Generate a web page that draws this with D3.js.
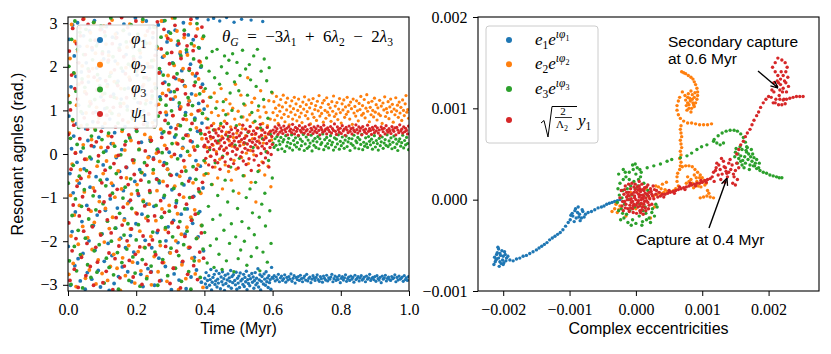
<!DOCTYPE html>
<html><head><meta charset="utf-8">
<script src="https://cdn.jsdelivr.net/npm/d3@7"></script>
<style>body{margin:0;background:#fff} svg{display:block} text{white-space:pre}</style>
</head><body><svg id="c" width="831" height="354"></svg>
<script>
// ================= DATA =================
// Left panel: resonant angles (hundredths of rad) sampled along three time segments (Myr)
const segments = [[0.0, 0.4], [0.4, 0.6], [0.6, 1.0]];
const phi1_chaos = [-212,87,263,-45,-301,154,12,-178,296,-89,41,225,-256,-133,178,69,-19,301,-240,112,-67,247,-291,5,188,-155,93,-228,271,-34,142,-310,58,209,-118,-272,31,165,-199,282,-76,120,-11,-287,239,74,-164,17,306,-221,96,-52,197,-140,255,-267,38,-98,173,-305,131,286,-183,62,-25,218,-246,104,-129,7,292,-58,159,-205,234,-313,80,-103,185,24,-233,268,-72,137,-297,49,213,-170,-8,277,-124,167,-281,91,-40,251,-193,126,10,-259,190,-84,298,-149,63,-215,228,-31,109,-270,151,-110,275,36,-187,202,-293,84,-14,244,-225,146,-63,312,-160,54,181,-250,118,-95,261,-36,222,-276,27,-138,193,-304,99,260,-48,-198,136,305,-115,71,-263,170,-6,289,
33,118,-270,-215,200,267,-9,-120,-301,77,152,240,-57,-180,11,296,-239,-66,131,188,-290,-145,48,222,305,-100,-20,165,-258,-199,90,257,-35,-167,280,4,-226,143,61,-311,-82,209,126,-152,-275,39,284,173,-112,-47,250,-203,67,-289,109,230,-4,-138,191,-248,15,301,-71,157,-184,95,-309,233,-126,44,273,-216,121,-56,206,-282,138,28,-159,262,-97,-237,82,179,-15,-266,312,52,-190,116,243,-132,-28,199,-294,71,160,-78,-222,103];
const phi1_cap1 = [-285,-298,-272,-306,-290,308,-279,-301,-288,-265,-312,-294,-283,311,-276,-299,-291,-268,-305,-287,-296,-274,305,-309,-282,-293,-270,-300,-286,-313,-278,-297,313,-289,-275,-303,-284,-292,-267,-308,-281,-295,-277,302,-290,-300,-271,-310,-285,-296,-280,-306,-273,-291,309,-287,-299,-276,-304,-283,-293,-269,-311,-288,-297,-279,-302,-286,307,-274,-294,-282,-308,-290,-272,-300,-285,-296,-263,-305,-289,-277,-312,-292,-281,304,-298,-275,-287,-301,-270,-293,-284,-306,-279,-295,-288,-310,-260,-283];
const phi1_cap2 = [-285,-279,-291,-282,-288,-276,-293,-284,-280,-290,-286,-277,-294,-283,-289,-281,-287,-275,-292,-285,-279,-296,-283,-288,-281,-290,-278,-286,-293,-284,-280,-289,-276,-291,-285,-282,-295,-287,-279,-284,-290,-283,-277,-288,-292,-281,-286,-294,-280,-285,-289,-278,-291,-284,-287,-282,-276,-293,-286,-280,-290,-283,-288,-279,-295,-285,-281,-289,-284,-277,-292,-286,-282,-290,-280,-287,-283,-294,-278,-288,-285,-281,-291,-284,-279,-289,-286,-282,-293,-280,-287,-284,-276,-290,-285,-283,-288,-281,-292,-279,-286,-289,-283,-295,-280,-287,-284,-278,-291,-285,-282,-288,-290,-281,-286,-284,-277,-293,-283,-289,-280,-287,-285,-282,-292,-279,-288,-284,-290,-281];
const phi2_chaos = [134,-276,48,219,-95,-188,297,-23,76,-251,185,-140,258,3,-304,112,-61,236,-207,160,-118,289,-36,65,-233,202,-166,21,310,-87,143,-285,94,-12,247,-192,178,-52,-266,120,278,-131,33,-219,196,-78,301,-157,58,231,-298,107,-28,169,-243,82,-109,264,-183,15,213,-274,137,-45,293,-202,70,-125,252,-16,155,-290,42,226,-171,98,-258,187,-67,307,-145,24,-230,166,-99,275,-5,128,-262,207,-39,89,-196,239,-313,150,-80,52,-238,283,116,-152,9,-279,198,-55,245,-114,73,-210,176,298,-172,31,-92,256,-248,140,-20,216,-296,61,-135,190,-70,269,-224,104,11,-177,232,-268,85,-43,304,-106,159,-214,45,272,-147,123,-281,208,-8,91,
-115,254,38,-189,-300,127,72,-44,215,-235,161,290,-153,2,-84,243,-270,114,186,-17,-210,57,305,-126,139,-63,-249,225,20,-173,96,271,-292,-35,180,147,-118,49,-227,261,-6,-158,312,88,-262,203,-74,131,-199,25,282,-137,66,-311,170,-51,234,108,-184,-254,13,196,-99,267,-30,155,-286,79,-168,227,42,-214,122,-3,299,-145,91,-239,184,-66,16,248,-128,-275,135,60,-193,287,-25,172,-245,100,211,-90,-164,35,265,-306,144,-48];
const phi2_cap1 = [45,-20,82,15,110,-45,60,130,-5,35,95,-70,20,70,140,-30,55,5,120,-55,88,25,-12,65,150,40,-80,100,10,75,-25,125,50,0,92,-40,30,115,62,-60,18,105,38,-15,80,160,-35,48,12,98,-90,68,28,135,-8,58,85,22,-50,112,42,2,78,175,-22,52,90,8,-65,118,35,72,-2,128,45,-110,60,16,100,30,-38,85,145,55,-18,70,25,108,-48,40,95,6,65,-28,122,50,80,-75,32,140];
const phi2_cap2 = [95,120,78,105,132,88,70,112,98,125,83,108,135,91,74,118,101,128,86,67,110,96,122,80,104,130,90,115,76,100,126,85,109,94,72,119,103,131,88,113,97,81,124,106,69,116,92,127,84,102,111,77,121,99,134,87,107,93,117,73,123,100,82,129,96,114,89,106,75,120,98,133,86,110,92,118,79,103,127,95,71,115,101,124,84,108,91,130,97,112,80,119,104,68,126,94,109,87,122,99,76,116,102,132,89,111,93,125,83,105,136,98,118,74,107,90,121,100,85,128,96,113,78,106,92,123,88,110,70,117,101,131,86,104,95,120,81,108,126,97,114,73,103,90,129,99,112,84,119,94,107,77,124,100,88,115,134,96,102,82];
const phi3_chaos = [-67,201,-245,118,36,-299,263,-141,79,-26,186,-212,305,-103,144,-268,22,240,-175,61,-51,279,-231,97,-120,172,-307,14,228,-82,153,-193,286,-38,67,-254,195,-149,110,-7,261,-283,41,-165,216,-96,302,-222,125,55,-128,248,-271,182,-17,88,-208,157,-60,293,-184,33,234,-114,4,-296,139,271,-73,-239,106,-154,211,48,-260,178,-31,312,-200,93,-90,223,-277,130,18,-170,266,-45,162,-226,71,-310,243,-136,116,-2,197,-249,57,-101,284,-186,149,-76,29,257,-218,101,-160,206,-290,39,170,-57,296,-125,81,-236,223,-14,128,-273,190,-197,52,-84,275,-162,10,238,-303,146,-42,85,-242,309,-109,175,-20,-215,115,254,-286,64,-143,200,-64,
172,-88,29,-257,214,133,-179,-36,291,62,-225,150,-118,247,10,-301,87,-61,196,-201,125,268,-145,3,-242,181,51,-95,306,-169,112,-22,231,-279,70,159,-131,-47,277,-216,99,24,-190,208,-79,143,312,-262,44,-107,184,-11,259,-233,117,-155,65,225,-292,-68,168,36,-208,284,-126,89,-39,239,-177,6,129,-270,192,-100,56,-310,253,-151,111,-29,218,-245,78,165,-58,-194,299,18,-136,244,-86,138,-283,47,202,-164,93,-218,270,-15];
const phi3_cap1 = [-180,150,-45,220,-250,80,-120,190,10,-210,130,-70,235,-150,55,-260,175,-20,105,-195,240,-95,30,-230,160,-140,70,200,-265,-5,120,-175,225,-60,90,-245,185,-110,40,215,-205,140,-30,-160,100,230,-85,-270,165,20,-190,65,210,-125,-240,145,-10,180,-220,85,-155,238,-50,115,-200,25,195,-100,-255,135,50,-170,205,-80,170,-235,95,-135,15,225,-185,75,-65,155,-215,240,-40,110,-145,-268,60,190,-115,35,-225,125,218,-90,-165,5,168,-248,82,-15,198,-130,45,-205,142,-55];
const phi3_cap2 = [25,15,35,20,40,10,30,22,38,12,28,33,6,42,18,27,36,14,24,44,9,31,21,37,16,26,41,11,34,19,29,45,8,23,39,13,32,17,25,43,7,30,20,36,15,28,40,12,35,22,26,46,10,33,18,38,24,14,31,42,21,27,9,37,16,34,23,44,11,29,19,39,25,13,32,41,17,28,36,8,24,35,20,43,14,30,26,38,12,33,22,45,10,27,18,37,23,15,40,29,21,34,11,26,42,16,31,24,9,36,19,28,39,13,25,33,20,44,17,30,22,37,12,27,41,15,34,23,8,29,35,18,26,43,14,31,21,38,24,10];
const psi1_chaos = [45,-158,236,-290,101,-35,181,-222,288,-117,66,-264,150,2,-194,253,-74,126,-306,209,-142,35,271,-56,-237,164,-98,309,-177,83,-12,228,-279,138,-205,57,297,-127,190,-43,-258,115,19,244,-167,94,-301,176,-85,261,-214,28,147,-248,73,-4,205,-132,285,-186,52,-66,230,-295,123,-110,280,-37,168,-269,89,-151,15,215,-227,298,-95,132,-181,40,253,-311,107,-22,193,-240,62,-146,267,-81,157,-3,-211,238,-284,109,-54,313,-163,78,-122,223,-257,21,184,-30,129,-199,290,-70,44,-244,170,-106,258,-172,98,-14,-282,218,-47,141,-230,305,59,-137,195,-91,26,262,-213,117,-60,202,-299,155,-188,68,245,-119,7,-253,175,-26,282,-153,92,-208,
-84,200,-271,31,144,-197,278,-12,63,-142,226,-231,112,-58,303,-175,5,186,-291,95,-107,241,38,-249,162,-26,286,-134,77,-212,134,12,-73,265,-180,49,207,-297,126,-49,233,-157,88,-262,176,-1,295,-121,58,-223,148,23,-168,253,-93,103,-307,219,-40,167,-246,80,-15,274,-189,138,43,-115,248,-276,113,-62,196,-214,30,309,-152,70,-99,237,-256,157,9,-138,270,-35,185,-288,99,-80,213,-225,54,153,-181,291,-65,121,-239,17];
const psi1_cap1 = [20,45,-10,35,60,5,28,-25,50,15,40,-5,65,22,-30,38,10,55,-15,30,48,0,25,-20,42,58,12,-35,32,18,52,-8,36,62,8,26,-18,44,14,70,2,34,-28,50,20,40,-12,56,24,6,46,-22,30,16,60,-2,38,11,54,-32,28,42,19,-6,48,33,4,66,-16,26,36,13,57,-24,41,23,9,51,-11,31,63,17,-38,45,27,7,53,-14,35,21,47,-4,29,59,14,-26,39,25,68,1,43,18,55,-20,33,12,49,-9,37,24,61,3,46,-30,30,15,52,-1,40,22];
const psi1_cap2 = [55,48,62,52,58,45,66,50,60,54,47,64,56,51,59,44,63,53,57,49,68,55,46,61,52,58,43,65,54,50,60,57,48,63,53,56,45,67,51,59,55,47,62,52,58,49,64,54,44,61,56,50,66,53,57,46,60,55,51,63,48,58,54,69,52,45,62,56,50,59,47,65,53,57,43,61,55,49,64,52,58,46,60,54,51,67,56,48,62,53,59,44,63,55,50,57,47,66,52,58,54,45,61,56,49,64,53,60,48,55,42,62,57,51,59,46,65,54,50,58,53,47,63,56,52,60,44,61,55,49,67,53,57,48,62,51,59,54,46,64];

// Right panel: complex eccentricities, [real, imag] in units of 1e-5
const e1_pts = [[-210,-60],[-205,-68],[-200,-62],[-214,-71],[-198,-57],[-207,-54],[-211,-66],[-195,-64],[-203,-70],[-209,-58],[-201,-66],[-213,-63],[-197,-60],[-206,-73],[-199,-69],[-208,-52],[-204,-61],[-212,-68],[-196,-67],[-202,-56],[-210,-65],[-193,-62],[-205,-59],[-200,-71],[-207,-64],
[-190,-66],[-185,-67],[-180,-65],[-175,-64],[-170,-62],[-165,-61],[-160,-59],[-155,-57],[-150,-55],[-146,-53],[-142,-51],[-138,-49],[-134,-47],[-130,-44],[-126,-42],[-122,-40],[-118,-38],[-114,-36],[-110,-33],[-106,-29],[-102,-25],
[-95,-18],[-88,-14],[-82,-20],[-99,-22],[-91,-10],[-85,-16],[-78,-19],[-93,-24],[-87,-8],[-80,-13],[-96,-15],[-90,-20],[-84,-23],[-76,-16],[-92,-12],[-86,-19],[-98,-17],[-81,-11],
[-72,-14],[-67,-13],[-62,-11],[-57,-9],[-52,-8],[-48,-7],[-44,-5],[-40,-4],[-36,-3],[-32,-2],[-28,-1],[-24,0]];
const e2_pts = [[69,140],[72,139],[75,138],[79,136],[83,134],[86,132],[88,129],[90,126],[92,122],[93,118],[93,114],[92,110],[90,106],[88,102],
[78,112],[82,108],[85,115],[80,104],[75,109],[84,100],[88,112],[79,116],[76,103],[83,119],[86,106],[81,111],[77,98],[89,117],[74,114],[80,100],[85,110],[78,106],[83,96],[87,104],
[70,118],[66,112],[64,108],[62,103],[62,98],[64,93],[67,89],[72,86],[78,84],[84,84],[90,83],[96,82],[102,82],[108,82],[114,83],
[68,81],[67,77],[68,73],[69,69],[67,65],[68,61],[69,57],[67,53],[68,49],[66,45],[68,41],[67,37],
[64,15],[62,20],[62,25],[63,29],[66,33],[70,36],[75,37],[80,37],[85,36],[89,33],[93,30],[97,27],[100,24],[103,21],[106,18],
[78,25],[83,22],[88,27],[92,20],[96,24],[85,18],[80,20],[90,16],[100,19],[94,15],[87,13],[82,16],[98,14],[104,16],[76,18],[91,24],
[97,2],[102,3],[107,4],[112,3],[117,2],[108,10],[110,7],
[27,4],[32,6],[37,7],[42,8],[47,9],[52,9],[57,10],[60,12],[34,14],[40,17],[46,19],[38,12],[44,11],
[-36,-13],[-32,-10],[-28,-14],[-24,-7],[-30,-5],[-26,-11],[5,10],[10,-5],[15,12],[-8,8],[20,2],[0,-10],[30,15],[28,-8],[-15,-18],[22,-20]];
const e3_pts = [[-20,10],[-15,25],[-10,30],[-5,38],[0,28],[-25,5],[-22,-10],[-18,-20],[-12,-25],[-5,-22],[5,-18],[10,-24],[15,-15],[20,-20],[25,-10],[30,-5],[-8,15],[-3,20],[2,35],[8,30],[-28,-3],[-24,18],[-17,-5],[-13,12],[-9,-12],[-6,5],[4,22],[12,18],[18,10],[22,-25],[28,-18],[-20,-15],[-16,30],[-11,0],[-2,-8],[6,-5],[14,-8],[-27,12],[-19,22],[-7,-28],[0,-26],[9,-28],[16,-22],[-14,-16],[-23,-22],[3,15],[-4,33],[7,25],[-26,-12],[-10,22],[17,5],[24,-14],[11,-12],[-1,12],[32,-8],[-21,2],[-26,28],[-19,33],[-1,39],
[6,33],[17,35],[27,37],[37,39],[47,42],[54,44],[67,46],[77,48],[84,51],[92,55],[99,58],[107,60],[117,64],[124,70],
[130,73],[136,75],[142,76],[148,76],[153,75],[158,72],[162,68],[165,63],[167,58],[118,66],[122,62],[127,60],[132,62],
[150,52],[155,45],[160,55],[165,40],[170,50],[175,42],[158,48],[163,35],[168,57],[172,38],[178,46],[153,40],[161,43],[167,52],[174,55],[180,40],[185,35],[157,58],[149,47],[164,47],[169,44],[176,50],[182,44],[154,50],[160,38],[171,33],[166,54],[151,56],[179,37],[186,40],[158,42],[173,47],
[177,37],[182,34],[187,32],[192,30],[197,29],[202,27],[207,26],[212,25],[216,24],[220,24]];
const y1_pts = [[0,0],[5,3],[-5,-2],[10,5],[-10,4],[3,-8],[8,-4],[-3,8],[15,2],[-15,-5],[12,10],[-8,12],[2,14],[-12,-10],[6,-12],[18,-3],[-18,6],[20,8],[-20,-2],[25,4],[-22,10],[9,17],[-4,-14],[14,-9],[-16,15],[22,12],[30,6],[35,8],[-6,18],[1,-15],[11,-16],[-13,0],[7,9],[-2,4],[16,14],[-9,-6],[4,6],[13,-2],[-7,1],[24,-5],[28,11],[-24,2],[-19,-12],[19,-10],[-1,11],[10,-8],[-11,17],[33,3],[26,15],[5,20],[-14,8],[17,6],[8,0],[-5,-10],[21,1],[-17,-2],[3,-3],[12,4],[-3,-5],[6,12],
[-2,2],[4,-1],[7,5],[-6,6],[1,8],[9,2],[-9,0],[12,-5],[-4,-7],[6,-7],[14,7],[-11,8],[2,-4],[10,11],[-7,-3],[16,-1],[19,4],[-14,3],[0,-6],[5,15],[-1,17],[23,9],[-17,11],[13,13],[-10,-13],[7,-14],[20,-6],[27,1],[31,10],[-21,-7],[18,16],[-3,14],[9,-11],[-12,5],[3,11],[15,-12],[-8,-9],[11,1],[-16,-9],[24,6],
[37,4],[40,6],[44,6],[48,7],[52,8],[56,9],[60,10],[64,11],[68,12],[72,13],[76,14],[80,15],[84,16],[88,17],[92,18],[96,18],[100,19],[104,21],[108,22],[112,23],[42,3],[50,10],[58,7],[66,14],[74,11],[82,18],[90,15],[98,21],[106,19],
[115,25],[120,32],[125,38],[130,28],[135,35],[140,30],[145,38],[150,32],[118,20],[128,22],[138,25],[148,25],[122,40],[132,42],[142,44],[152,40],[127,33],[137,29],[143,33],[133,36],[117,30],[124,27],[147,28],[153,22],[150,16],[146,18],[134,19],[129,45],[140,40],[155,35],[121,35],[136,31],
[152,50],[155,55],[158,60],[162,64],[165,69],[168,73],[172,77],[175,82],[178,87],[182,92],[185,96],[188,101],[192,106],[196,110],[200,113],
[204,112],[208,118],[212,124],[215,128],[218,132],[222,136],[226,140],[228,145],[225,150],[220,153],[214,155],[210,150],[206,145],[210,140],[214,136],[218,126],[222,122],[226,128],[229,134],[221,118],[216,114],[211,110],[207,106],[213,130],[219,140],[224,130],[208,128],[205,120],[227,118],[217,120],[223,110],[230,124],
[217,110],[222,109],[227,110],[232,111],[237,112],[242,113],[247,113],[252,113],[210,106],[215,104],[220,104],[225,105]];

const colors = ["#1f77b4", "#ff7f0e", "#2ca02c", "#d62728"];
const xTicksL = [0, 0.2, 0.4, 0.6, 0.8, 1.0];
const yTicksL = [-3, -2, -1, 0, 1, 2, 3];
const xTicksR = [-0.002, -0.001, 0, 0.001, 0.002];
const yTicksR = [-0.001, 0, 0.001, 0.002];

// ================= BUILD TABLES =================
const angleSeries = [
  [phi1_chaos, phi1_cap1, phi1_cap2],
  [phi2_chaos, phi2_cap1, phi2_cap2],
  [phi3_chaos, phi3_cap1, phi3_cap2],
  [psi1_chaos, psi1_cap1, psi1_cap2]
];
const leftRows = [];
angleSeries.forEach((segs, k) => {
  segs.forEach((vals, j) => {
    const [t0, t1] = segments[j];
    const n = vals.length;
    vals.forEach((v, i) => leftRows.push({k, j, t: t0 + (i + 0.5) * (t1 - t0) / n, a: v / 100}));
  });
});
const rightRows = [];
[e1_pts, e2_pts, e3_pts, y1_pts].forEach((pts, k) =>
  pts.forEach(p => rightRows.push({k, x: p[0] * 1e-5, y: p[1] * 1e-5})));

// ================= DRAW =================
const svg = d3.select("#c");
const SANS = "Liberation Sans, Arial, sans-serif";
const SERIF = "Liberation Serif, Times New Roman, serif";
const L = {x0: 68, x1: 409, y0: 17, y1: 291};
const R = {x0: 478, x1: 819, y0: 17, y1: 291};
const xL = d3.scaleLinear().domain([0, 1]).range([L.x0, L.x1]);
const yL = d3.scaleLinear().domain([-Math.PI, Math.PI]).range([L.y1, L.y0]);
const xR = d3.scaleLinear().domain([-0.00238, 0.00276]).range([R.x0, R.x1]);
const yR = d3.scaleLinear().domain([-0.001, 0.002]).range([R.y1, R.y0]);

const defs = svg.append("defs");
defs.append("clipPath").attr("id", "clipL").append("rect").attr("x", L.x0).attr("y", L.y0).attr("width", L.x1 - L.x0).attr("height", L.y1 - L.y0);
defs.append("clipPath").attr("id", "clipR").append("rect").attr("x", R.x0).attr("y", R.y0).attr("width", R.x1 - R.x0).attr("height", R.y1 - R.y0);
defs.append("marker").attr("id", "ah").attr("viewBox", "0 0 10 10").attr("refX", 10).attr("refY", 5)
  .attr("markerWidth", 8).attr("markerHeight", 8).attr("orient", "auto-start-reverse").attr("markerUnits", "userSpaceOnUse")
  .append("path").attr("d", "M1,1 L10,5 L1,9").attr("fill", "none").attr("stroke", "#000").attr("stroke-width", 1.6);

const dotR = [1.9, 1.7, 1.6]; // marker radius per time segment
svg.append("g").attr("clip-path", "url(#clipL)").selectAll("circle").data(leftRows).join("circle")
  .attr("cx", d => xL(d.t)).attr("cy", d => yL(d.a)).attr("r", d => dotR[d.j]).attr("fill", d => colors[d.k]);
svg.append("g").attr("clip-path", "url(#clipR)").selectAll("circle").data(rightRows).join("circle")
  .attr("cx", d => xR(d.x)).attr("cy", d => yR(d.y)).attr("r", 1.7).attr("fill", d => colors[d.k]);

function styleAxis(g) {
  g.select(".domain").remove();
  g.selectAll("line").attr("stroke", "#000").attr("stroke-width", 1);
  g.selectAll("text").attr("font-family", SERIF).attr("font-size", 16).attr("fill", "#000");
}
const fmt1 = d3.format(".1f"), fmtD = d3.format("d"), fmt3 = d3.format(".3f");
svg.append("g").attr("transform", `translate(0,${L.y1})`)
  .call(d3.axisBottom(xL).tickValues(xTicksL).tickSize(5).tickPadding(8).tickFormat(fmt1)).call(styleAxis);
svg.append("g").attr("transform", `translate(${L.x0},0)`)
  .call(d3.axisLeft(yL).tickValues(yTicksL).tickSize(5).tickPadding(5.5).tickFormat(fmtD)).call(styleAxis);
svg.append("g").attr("transform", `translate(0,${R.y1})`)
  .call(d3.axisBottom(xR).tickValues(xTicksR).tickSize(5).tickPadding(8).tickFormat(fmt3)).call(styleAxis);
svg.append("g").attr("transform", `translate(${R.x0},0)`)
  .call(d3.axisLeft(yR).tickValues(yTicksR).tickSize(5).tickPadding(5.5).tickFormat(fmt3)).call(styleAxis);

[L, R].forEach(A => svg.append("rect").attr("x", A.x0).attr("y", A.y0).attr("width", A.x1 - A.x0).attr("height", A.y1 - A.y0)
  .attr("fill", "none").attr("stroke", "#000").attr("stroke-width", 1.1));

// axis labels
svg.append("text").attr("x", (L.x0 + L.x1) / 2).attr("y", 334).attr("text-anchor", "middle")
  .attr("font-family", SANS).attr("font-size", 16).text("Time (Myr)");
svg.append("text").attr("x", (R.x0 + R.x1) / 2).attr("y", 334).attr("text-anchor", "middle")
  .attr("font-family", SANS).attr("font-size", 16).text("Complex eccentricities");
svg.append("text").attr("transform", `translate(23,${(L.y0 + L.y1) / 2}) rotate(-90)`).attr("text-anchor", "middle")
  .attr("font-family", SANS).attr("font-size", 16).text("Resonant agnles (rad.)");

// rich math text helper
function rich(x, y, parts, size, anchor) {
  const t = svg.append("text").attr("x", x).attr("y", y).attr("font-size", size).attr("font-family", SERIF)
    .attr("text-anchor", anchor || "start");
  let cur = 0;
  parts.forEach(p => {
    const off = p.o || 0;
    t.append("tspan").attr("dy", off - cur).attr("font-size", p.s || size)
      .attr("font-style", p.i ? "italic" : "normal").text(p.t);
    cur = off;
  });
  return t;
}

// Left legend
const legL = {x: 77, y: 25, w: 80, h: 103};
svg.append("rect").attr("x", legL.x).attr("y", legL.y).attr("width", legL.w).attr("height", legL.h).attr("rx", 3)
  .attr("fill", "#fff").attr("fill-opacity", 0.92).attr("stroke", "#cccccc").attr("stroke-width", 1);
const legLabelsL = [["φ", "1"], ["φ", "2"], ["φ", "3"], ["ψ", "1"]];
legLabelsL.forEach((lab, i) => {
  const cy = 40 + i * 24.7;
  svg.append("circle").attr("cx", 100).attr("cy", cy).attr("r", 3).attr("fill", colors[i]);
  rich(131, cy + 4, [{t: lab[0], i: 1}, {t: lab[1], s: 11.5, o: 4}], 17);
});

// Right legend
const legR = {x: 486, y: 26, w: 112, h: 117};
svg.append("rect").attr("x", legR.x).attr("y", legR.y).attr("width", legR.w).attr("height", legR.h).attr("rx", 3)
  .attr("fill", "#fff").attr("fill-opacity", 0.92).attr("stroke", "#cccccc").attr("stroke-width", 1);
const legRY = [40, 64.3, 89, 120];
legRY.forEach((cy, i) => svg.append("circle").attr("cx", 509).attr("cy", cy).attr("r", 3).attr("fill", colors[i]));
["1", "2", "3"].forEach((n, i) => {
  rich(535, legRY[i] + 5, [{t: "e", i: 1}, {t: n, s: 11.5, o: 4}, {t: "e", i: 1, o: 0},
    {t: "ιφ", i: 1, s: 11.5, o: -7}, {t: n, s: 8, o: -4.5}], 17);
});
// sqrt(2/Λ2) y1
svg.append("path").attr("d", "M541,123 L544,120.5 L548,137 L552,106.5 L577,106.5")
  .attr("fill", "none").attr("stroke", "#000").attr("stroke-width", 1);
rich(563, 115, [{t: "2"}], 11, "middle");
svg.append("line").attr("x1", 555).attr("x2", 572).attr("y1", 117.5).attr("y2", 117.5).attr("stroke", "#000").attr("stroke-width", 0.8);
rich(556, 128, [{t: "Λ"}, {t: "2", s: 8, o: 2.5}], 11);
rich(578, 126, [{t: "y", i: 1}, {t: "1", s: 11.5, o: 4}], 17);

// theta formula
rich(222, 42, [{t: "θ", i: 1}, {t: "G", i: 1, s: 11.5, o: 4}, {t: "\u2002=\u2002−3"}, {t: "λ", i: 1}, {t: "1", s: 11.5, o: 4},
  {t: "\u2002+\u20026"}, {t: "λ", i: 1}, {t: "2", s: 11.5, o: 4}, {t: "\u2002−\u20022"}, {t: "λ", i: 1}, {t: "3", s: 11.5, o: 4}], 17);

// annotations
svg.append("text").attr("x", 668).attr("y", 47).attr("font-family", SANS).attr("font-size", 15.5).text("Secondary capture");
svg.append("text").attr("x", 668).attr("y", 63.5).attr("font-family", SANS).attr("font-size", 15.5).text("at 0.6 Myr");
svg.append("text").attr("x", 636).attr("y", 245).attr("font-family", SANS).attr("font-size", 15.5).text("Capture at 0.4 Myr");
svg.append("line").attr("x1", 758).attr("y1", 71).attr("x2", 778).attr("y2", 88).attr("stroke", "#000").attr("stroke-width", 1.4).attr("marker-end", "url(#ah)");
svg.append("line").attr("x1", 709).attr("y1", 228).attr("x2", 727).attr("y2", 178).attr("stroke", "#000").attr("stroke-width", 1.4).attr("marker-end", "url(#ah)");
</script></body></html>
